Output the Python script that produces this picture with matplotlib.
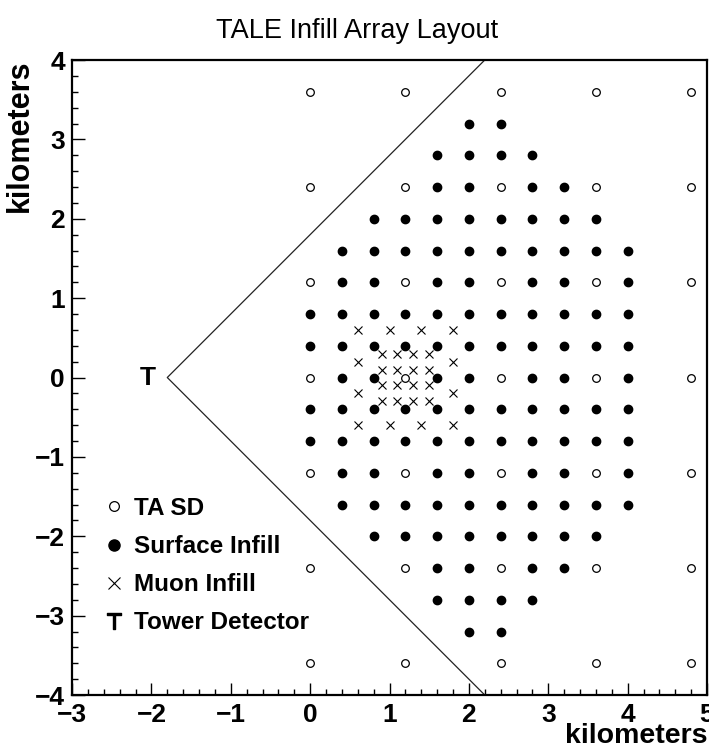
import matplotlib.pyplot as plt
from matplotlib.lines import Line2D
from matplotlib.ticker import MultipleLocator
import numpy as np

plt.rcParams['font.family'] = ['Liberation Sans', 'DejaVu Sans']

# TA SD grid (1.2 km spacing)
ta_sd_x = [0.0, 1.2, 2.4, 3.6, 4.8]
ta_sd_y = [3.6, 2.4, 1.2, 0.0, -1.2, -2.4, -3.6]

# Surface infill (0.4 km spacing), row by row
infill_rows = [
    (3.2, [2.0, 2.4]),
    (2.8, [1.6, 2.0, 2.4, 2.8]),
    (2.4, [1.6, 2.0, 2.8, 3.2]),
    (2.0, [0.8, 1.2, 1.6, 2.0, 2.4, 2.8, 3.2, 3.6]),
    (1.6, [0.4, 0.8, 1.2, 1.6, 2.0, 2.4, 2.8, 3.2, 3.6, 4.0]),
    (1.2, [0.4, 0.8, 1.6, 2.0, 2.8, 3.2, 4.0]),
    (0.8, [0.0, 0.4, 0.8, 1.2, 1.6, 2.0, 2.4, 2.8, 3.2, 3.6, 4.0]),
    (0.4, [0.0, 0.4, 0.8, 1.2, 1.6, 2.0, 2.4, 2.8, 3.2, 3.6, 4.0]),
    (0.0, [0.4, 0.8, 1.6, 2.0, 2.8, 3.2, 4.0]),
    (-0.4, [0.0, 0.4, 0.8, 1.2, 1.6, 2.0, 2.4, 2.8, 3.2, 3.6, 4.0]),
    (-0.8, [0.0, 0.4, 0.8, 1.2, 1.6, 2.0, 2.4, 2.8, 3.2, 3.6, 4.0]),
    (-1.2, [0.4, 0.8, 1.6, 2.0, 2.8, 3.2, 4.0]),
    (-1.6, [0.4, 0.8, 1.2, 1.6, 2.0, 2.4, 2.8, 3.2, 3.6, 4.0]),
    (-2.0, [0.8, 1.2, 1.6, 2.0, 2.4, 2.8, 3.2, 3.6]),
    (-2.4, [1.6, 2.0, 2.8, 3.2]),
    (-2.8, [1.6, 2.0, 2.4, 2.8]),
    (-3.2, [2.0, 2.4]),
]

# Muon infill
muon_x = [0.6, 1.0, 1.4, 1.8,
          0.9, 1.1, 1.3, 1.5,
          0.6, 1.8,
          0.9, 1.1, 1.3, 1.5,
          0.9, 1.1, 1.3, 1.5,
          0.6, 1.8,
          0.9, 1.1, 1.3, 1.5,
          0.6, 1.0, 1.4, 1.8]
muon_y = [0.6, 0.6, 0.6, 0.6,
          0.3, 0.3, 0.3, 0.3,
          0.2, 0.2,
          0.1, 0.1, 0.1, 0.1,
          -0.1, -0.1, -0.1, -0.1,
          -0.2, -0.2,
          -0.3, -0.3, -0.3, -0.3,
          -0.6, -0.6, -0.6, -0.6]

# Tower detector and its field of view edges
tower_x, tower_y = -1.8, 0.0
fov_x = [2.2, -1.8, 2.2]
fov_y = [4.0, 0.0, -4.0]

fig = plt.figure(figsize=(7.09, 7.5), dpi=100)
ax = fig.add_axes([0.1016, 0.0733, 0.8956, 0.8467])

ax.plot(fov_x, fov_y, color='#222222', lw=0.9)

sx, sy = np.meshgrid(ta_sd_x, ta_sd_y)
ax.plot(sx.ravel(), sy.ravel(), 'o', mfc='white', mec='black', ms=5.5, mew=0.9)

ix = [x for y, xs in infill_rows for x in xs]
iy = [y for y, xs in infill_rows for x in xs]
ax.plot(ix, iy, 'o', color='black', ms=6)

ax.plot(muon_x, muon_y, 'x', color='black', ms=6, mew=0.8)

ax.annotate('T', (tower_x, tower_y), xytext=(-14, 0), textcoords='offset points',
            ha='center', va='center', fontsize=19, fontweight='bold')

ax.set_xlim(-3, 5)
ax.set_ylim(-4, 4)

ax.xaxis.set_major_locator(MultipleLocator(1))
ax.xaxis.set_minor_locator(MultipleLocator(0.2))
ax.yaxis.set_major_locator(MultipleLocator(1))
ax.yaxis.set_minor_locator(MultipleLocator(0.2))
ax.tick_params(which='both', direction='in', width=1)
ax.tick_params(which='major', length=9, labelsize=19)
ax.tick_params(axis='x', which='major', pad=6)
ax.tick_params(axis='y', which='major', pad=5)
ax.tick_params(which='minor', length=4)
for lbl in ax.get_xticklabels() + ax.get_yticklabels():
    lbl.set_fontweight('bold')
for s in ax.spines.values():
    s.set_linewidth(1.6)

ax.set_xlabel('kilometers', loc='right', fontsize=20.5, fontweight='bold', va='baseline')
ax.xaxis.set_label_coords(1.0, -0.076)
ax.set_ylabel('kilometers', loc='top', fontsize=22, fontweight='bold')
ax.yaxis.set_label_coords(-0.058, 1.0)

fig.text(0.503, 0.958, 'TALE Infill Array Layout', ha='center', va='center', fontsize=19.5)

handles = [
    Line2D([], [], ls='none', marker='o', mfc='white', mec='black', ms=7, mew=0.9),
    Line2D([], [], ls='none', marker='o', color='black', ms=8),
    Line2D([], [], ls='none', marker='x', color='black', ms=8, mew=0.8),
    Line2D([], [], ls='none', marker='$\\mathsf{T}$', color='black', ms=12),
]
labels = ['TA SD', 'Surface Infill', 'Muon Infill', 'Tower Detector']
leg = ax.legend(handles, labels, loc='upper left', bbox_to_anchor=(0.035, 0.331),
                frameon=False, handlelength=0.6, handletextpad=0.55,
                labelspacing=0.62, borderpad=0, prop={'size': 17.5, 'weight': 'bold'})

fig.savefig('out.png', dpi=100)
